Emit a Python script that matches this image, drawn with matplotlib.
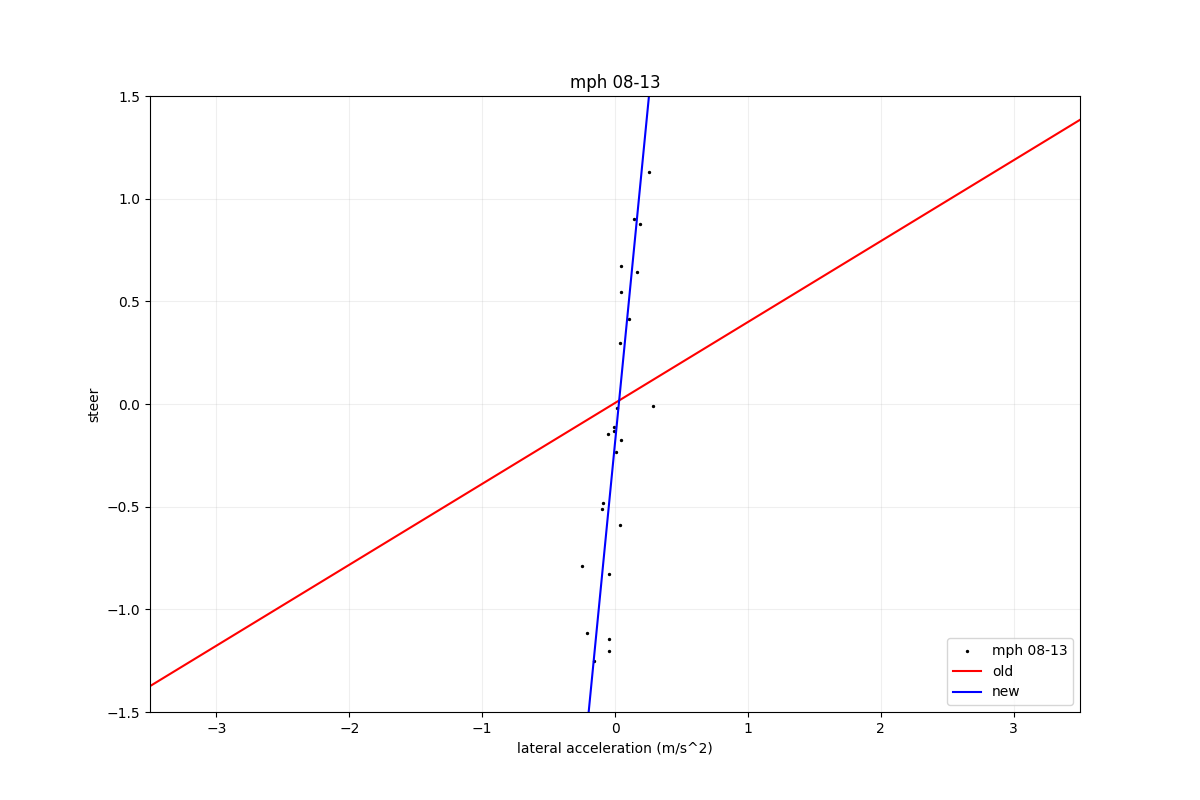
import matplotlib
matplotlib.use("Agg")
import matplotlib.pyplot as plt
import numpy as np

label = "mph 08-13"

# scatter samples (lateral accel, steer)
lat_accel = [0.256, 0.143, 0.188, 0.045, 0.166, 0.045, 0.105, 0.038,
             0.286, 0.015, -0.053, 0.045, -0.005, -0.005, 0.010,
             -0.088, -0.095, 0.040, -0.248, -0.047, -0.208, -0.043,
             -0.047, -0.156]
steer = [1.13, 0.90, 0.877, 0.672, 0.643, 0.545, 0.414, 0.297,
         -0.01, -0.019, -0.146, -0.175, -0.11, -0.13, -0.235,
         -0.484, -0.51, -0.59, -0.79, -0.83, -1.117, -1.146,
         -1.205, -1.252]

# linear fits: steer = slope * accel + offset
old_fit = (0.394, 0.005)
new_fit = (6.61, -0.19)

xlim = (-3.5, 3.5)
ylim = (-1.5, 1.5)

fig, ax = plt.subplots(figsize=(12, 8), dpi=100)

ax.scatter(lat_accel, steer, s=2, color="black", label=label)

xs = np.linspace(xlim[0], xlim[1], 200)
ax.plot(xs, old_fit[0] * xs + old_fit[1], color="red", label="old")
ax.plot(xs, new_fit[0] * xs + new_fit[1], color="blue", label="new")

ax.set_xlim(*xlim)
ax.set_ylim(*ylim)
ax.grid(True, alpha=0.2)
ax.set_title(label)
ax.set_xlabel("lateral acceleration (m/s^2)")
ax.set_ylabel("steer")
ax.legend(loc="lower right")

fig.savefig("out.png", dpi=100)
